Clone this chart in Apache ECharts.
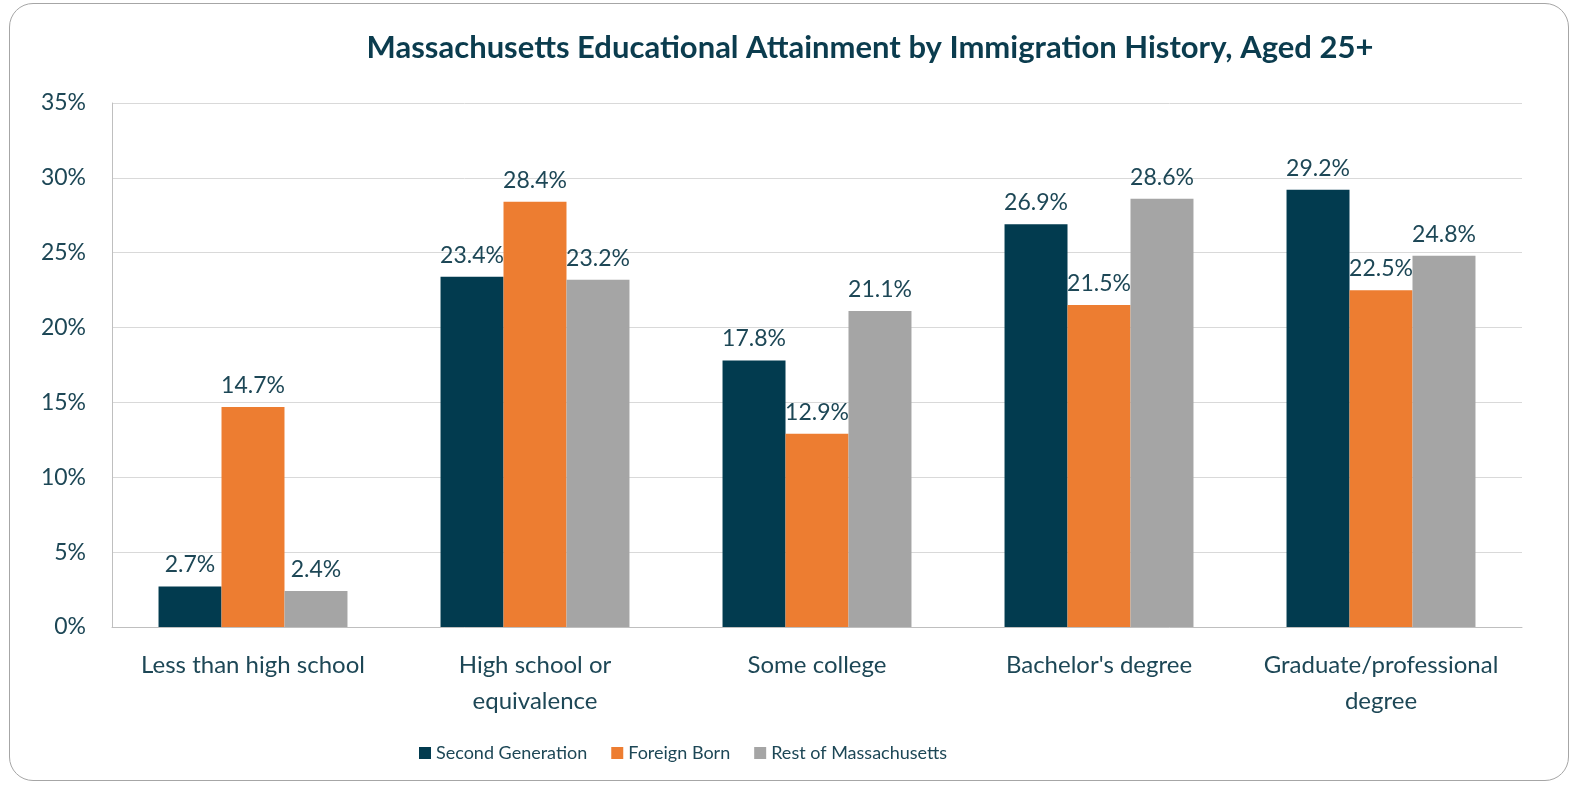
<!DOCTYPE html>
<html>
<head>
<meta charset="utf-8">
<script src="https://cdn.jsdelivr.net/npm/echarts@6/dist/echarts.min.js"></script>
<style>
  html, body { margin: 0; padding: 0; background: #fff; }
  .frame {
    position: absolute; left: 9px; top: 3px; width: 1560px; height: 778px;
    border: 1px solid #a6a6a6; border-radius: 24px; box-sizing: border-box;
  }
  #chart { position: absolute; left: 0; top: 0; width: 1574px; height: 786px; }
</style>
</head>
<body>
<div class="frame"></div>
<div id="chart"></div>
<script>
const categories = ['Less than high school', 'High school or\nequivalence', 'Some college', "Bachelor's degree", 'Graduate/professional\ndegree']
const secondGeneration = [2.7, 23.4, 17.8, 26.9, 29.2]
const foreignBorn = [14.7, 28.4, 12.9, 21.5, 22.5]
const restOfMass = [2.4, 23.2, 21.1, 28.6, 24.8]

const textColor = '#1d4756'
const font = 'Lato, "Open Sans", sans-serif'

const chart = echarts.init(document.getElementById('chart'))

const makeSeries = (name, data, color) => ({
  name,
  type: 'bar',
  data,
  barGap: '0%',
  barCategoryGap: '33%',
  itemStyle: { color },
  label: {
    show: true,
    position: 'top',
    distance: 10,
    formatter: (p) => p.value.toFixed(1) + '%',
    color: textColor,
    fontSize: 23,
    fontFamily: font,
  },
})

chart.setOption({
  animation: false,
  title: {
    text: 'Massachusetts Educational Attainment by Immigration History, Aged 25+',
    left: 865,
    textAlign: 'center',
    top: 27,
    textStyle: { color: '#0b3c4e', fontSize: 31, fontWeight: 'bold', fontFamily: font },
  },
  legend: {
    left: 414,
    top: 739,
    itemWidth: 12,
    itemHeight: 12,
    itemGap: 24,
    icon: 'rect',
    textStyle: { color: textColor, fontSize: 18, fontFamily: font },
  },
  grid: { left: 112, right: 52, top: 103, bottom: 159 },
  xAxis: {
    type: 'category',
    data: categories,
    axisTick: { show: false },
    axisLine: { lineStyle: { color: '#bfbfbf' } },
    axisLabel: { interval: 0, color: textColor, fontSize: 24, fontFamily: font, margin: 20, lineHeight: 36 },
  },
  yAxis: {
    type: 'value',
    min: 0,
    max: 35,
    interval: 5,
    axisLine: { show: true, lineStyle: { color: '#bfbfbf' } },
    axisLabel: { color: textColor, fontSize: 23, fontFamily: font, margin: 26, formatter: '{value}%' },
    splitLine: { lineStyle: { color: '#d9d9d9' } },
  },
  series: [
    makeSeries('Second Generation', secondGeneration, '#023b4f'),
    makeSeries('Foreign Born', foreignBorn, '#ed7d31'),
    makeSeries('Rest of Massachusetts', restOfMass, '#a5a5a5'),
  ],
})
</script>
</body>
</html>
